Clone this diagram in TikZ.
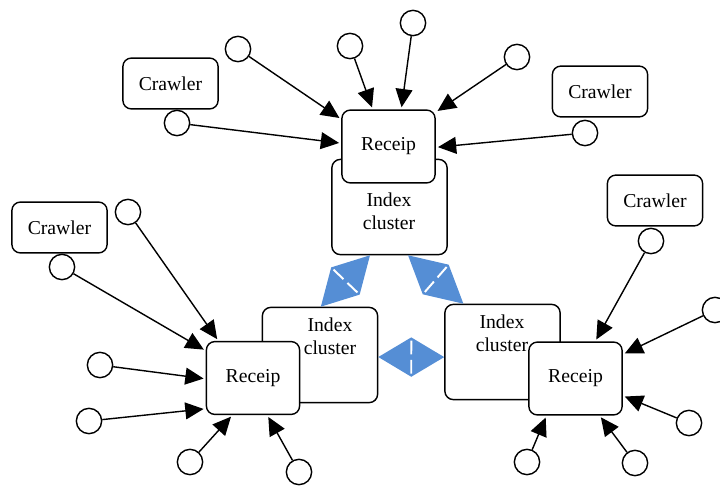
\documentclass[tikz,border=0pt]{standalone}
\usepackage{fontspec}
\setmainfont{Liberation Serif}
\usetikzlibrary{positioning, arrows.meta, calc}
\definecolor{syncblue}{RGB}{85,142,213}

% two-headed blue link between index clusters
\newcommand{\syncarrow}[2]{%
  \path ($(#1)!0.5!(#2)!14pt!90:(#2)$) coordinate (sl)
        ($(#1)!0.5!(#2)!14pt!-90:(#2)$) coordinate (sr);
  \fill[syncblue] (#1) -- (sl) -- (#2) -- (sr) -- cycle;
  \draw[white, line width=1.4pt] ($(sl)!0.08!(sr)$) -- ($(sl)!0.43!(sr)$)
                                 ($(sl)!0.57!(sr)$) -- ($(sl)!0.92!(sr)$);
}

\begin{document}
\begin{tikzpicture}[x=0.025cm, y=-0.025cm,
  every node/.style={font=\fontsize{14}{16.5}\selectfont},
  box/.style={draw, line width=1pt, rounded corners=6pt, fill=white, inner sep=0pt},
  crawler/.style={box, minimum width=2.38cm, minimum height=1.27cm},
  receip/.style={box, minimum width=2.33cm, minimum height=1.82cm},
  index/.style={box, minimum width=2.88cm, minimum height=2.38cm},
  idxtext/.style={align=center, inner sep=0pt},
  peer/.style={circle, draw, line width=1pt, fill=white, minimum size=18pt, inner sep=0pt},
  feed/.style={-{Triangle[length=13pt,width=12pt]}, line width=1pt, shorten >=1.5pt}]
\useasboundingbox (0,0) rectangle (720,485);

% index clusters
\node[index] (iT) at (389.5,207) {};
\node[index] (iL) at (320,355) {};
\node[index] (iR) at (502.5,352) {};
\node[idxtext] (iTt) at (389,211) {Index\\cluster};
\node[idxtext] (iLt) at (330,336) {Index\\cluster};
\node[idxtext] (iRt) at (502,333) {Index\\cluster};

% receivers
\node[receip] (rT) at (388.5,146.5) {Receip};
\node[receip] (rL) at (253,378) {Receip};
\node[receip] (rR) at (575.5,378.5) {Receip};

% links between clusters
\syncarrow{iT.248}{iL.89}
\syncarrow{iT.291.5}{iR.129.5}
\syncarrow{iL.358}{iR.185}

% crawlers
\node[crawler] (cwTL) at (170.5,83.5) {Crawler};
\node[crawler] (cwTR) at (600,91.5) {Crawler};
\node[crawler] (cwL) at (59.5,227.5) {Crawler};
\node[crawler] (cwR) at (655,200.5) {Crawler};

% top group
\node[peer] (t1) at (177,123) {};
\node[peer] (t2) at (238,49) {};
\node[peer] (t3) at (350,46) {};
\node[peer] (t4) at (413,23) {};
\node[peer] (t5) at (517,57) {};
\node[peer] (t6) at (585,133) {};
\draw[feed] (t1) -- (rT.176);
\draw[feed] (t2) -- (rT.150);
\draw[feed] (t3) -- (rT.113);
\draw[feed] (t4) -- (rT.71);
\draw[feed] (t5) -- (rT.36);
\draw[feed] (t6) -- (rT.-1);

% left group
\node[peer] (l1) at (62,267) {};
\node[peer] (l2) at (128,212) {};
\node[peer] (l3) at (100,365) {};
\node[peer] (l4) at (89,421) {};
\node[peer] (l5) at (190,462) {};
\node[peer] (l6) at (299,472) {};
\draw[feed] (l1) -- (rL.150);
\draw[feed] (l2) -- (rL.133);
\draw[feed] (l3) -- (rL.181);
\draw[feed] (l4) -- (rL.213);
\draw[feed] (l5) -- (rL.241);
\draw[feed] (l6) -- (rL.291);

% right group
\node[peer] (r1) at (651,241) {};
\node[peer] (r2) at (715,310) {};
\node[peer] (r3) at (689,423) {};
\node[peer] (r4) at (527,462) {};
\node[peer] (r5) at (635,463) {};
\draw[feed] (r1) -- (rR.62);
\draw[feed] (r2) -- (rR.27);
\draw[feed] (r3) -- (rR.340);
\draw[feed] (r4) -- (rR.232);
\draw[feed] (r5) -- (rR.303);
\end{tikzpicture}
\end{document}
